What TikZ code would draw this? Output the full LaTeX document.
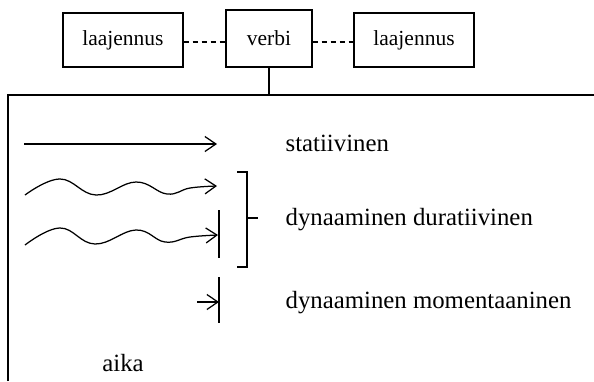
\documentclass[tikz,border=0pt]{standalone}
\usepackage{fontspec}
\setmainfont{Liberation Serif}
\usetikzlibrary{arrows.meta}
\begin{document}
\begin{tikzpicture}[x=1pt,y=-1pt,line width=1.25pt,
  box/.style={draw,inner sep=0pt,font=\fontsize{21.5}{25}\selectfont},
  lbl/.style={anchor=base west,inner sep=0pt,font=\fontsize{24.8}{29}\selectfont},
  dsh/.style={dash pattern=on 5pt off 4pt},
  tip/.style={-{Straight Barb[length=11pt,width=15pt,line width=1.25pt]}}]
\useasboundingbox (0,0) rectangle (594,381);
\node[box,minimum width=120pt,minimum height=54pt] (l) at (123,40) {laajennus};
\node[box,minimum width=86pt,minimum height=57pt] (v) at (269,38.5) {verbi};
\node[box,minimum width=120pt,minimum height=54pt] (r) at (414,40) {laajennus};
\draw[dsh] (l.east |- 0,42) -- (v.west |- 0,42);
\draw[dsh] (v.east |- 0,42) -- (r.west |- 0,42);
\coordinate (j) at (269,95);
\draw (v.south) -- (j);
\draw (8,381) -- (8,95) -- (594,95);
% arrows
\coordinate (a1) at (24,144);
\coordinate (a2) at (217,144);
\draw[tip] (a1) -- (a2);
\draw[tip] plot[smooth,tension=0.7] coordinates {(25,195) (60,179) (96,195) (136,182) (167,194) (190,188) (217,186)};
\draw[tip] plot[smooth,tension=0.7] coordinates {(25,245) (60,228) (95,244) (136,230) (165,242) (190,237) (218,235)};
\draw (219,210) -- (219,258);
\draw (237,172) -- (247,172) -- (247,267) -- (237,267);
\draw (247,218) -- (258,218);
\draw (219,277) -- (219,323);
\coordinate (m1) at (197,302);
\coordinate (m2) at (219,302);
\draw[tip] (m1) -- (m2);
\node[lbl] (s) at (285,151) {statiivinen};
\node[lbl] (d) at (285,225) {dynaaminen duratiivinen};
\node[lbl] (mo) at (285,308) {dynaaminen momentaaninen};
\node[lbl,anchor=base] (ai) at (123,371) {aika};
\end{tikzpicture}
\end{document}
